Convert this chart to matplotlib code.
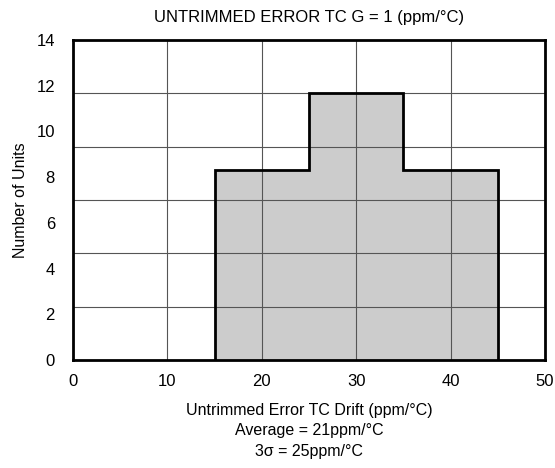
import numpy as np
import matplotlib.pyplot as plt

plt.rcParams['font.family'] = ['Liberation Sans', 'DejaVu Sans']

# histogram
edges = [15, 25, 35, 45]
counts = [8.3, 11.7, 8.3]
yticks = [0, 2, 4, 6, 8, 10, 12, 14]
xticks = [0, 10, 20, 30, 40, 50]

fig = plt.figure(figsize=(5.55, 4.68), dpi=100)
ax = fig.add_axes([0.1315, 0.2308, 0.8505, 0.6837])

ax.stairs(counts, edges, baseline=0, fill=True, color='#cccccc', zorder=1)
ax.stairs(counts, edges, baseline=0, fill=False, edgecolor='black', linewidth=2, zorder=3)

ax.set_xlim(0, 50)
ax.set_ylim(0, 14)
ax.set_xticks(xticks)
ax.set_yticks(yticks)
ax.set_yticks(np.arange(1, 6) * 14 / 6, minor=True)
ax.tick_params(which='both', length=0, labelsize=12, pad=10)
ax.tick_params(axis='y', pad=13)
ax.set_axisbelow(False)
ax.grid(axis='x', which='major', color='#555555', linewidth=0.8, zorder=2)
ax.grid(axis='y', which='minor', color='#555555', linewidth=0.8, zorder=2)
for s in ax.spines.values():
    s.set_linewidth(2)
    s.set_zorder(4)

ax.set_title('UNTRIMMED ERROR TC G = 1 (ppm/\u00b0C)', fontsize=12, pad=13)
ax.set_ylabel('Number of Units', fontsize=11.5, labelpad=6)
ax.set_xlabel('Untrimmed Error TC Drift (ppm/\u00b0C)\nAverage = 21ppm/\u00b0C\n3\u03c3 = 25ppm/\u00b0C',
              fontsize=11.5, labelpad=10, linespacing=1.45)

fig.savefig('out.png', dpi=100)
